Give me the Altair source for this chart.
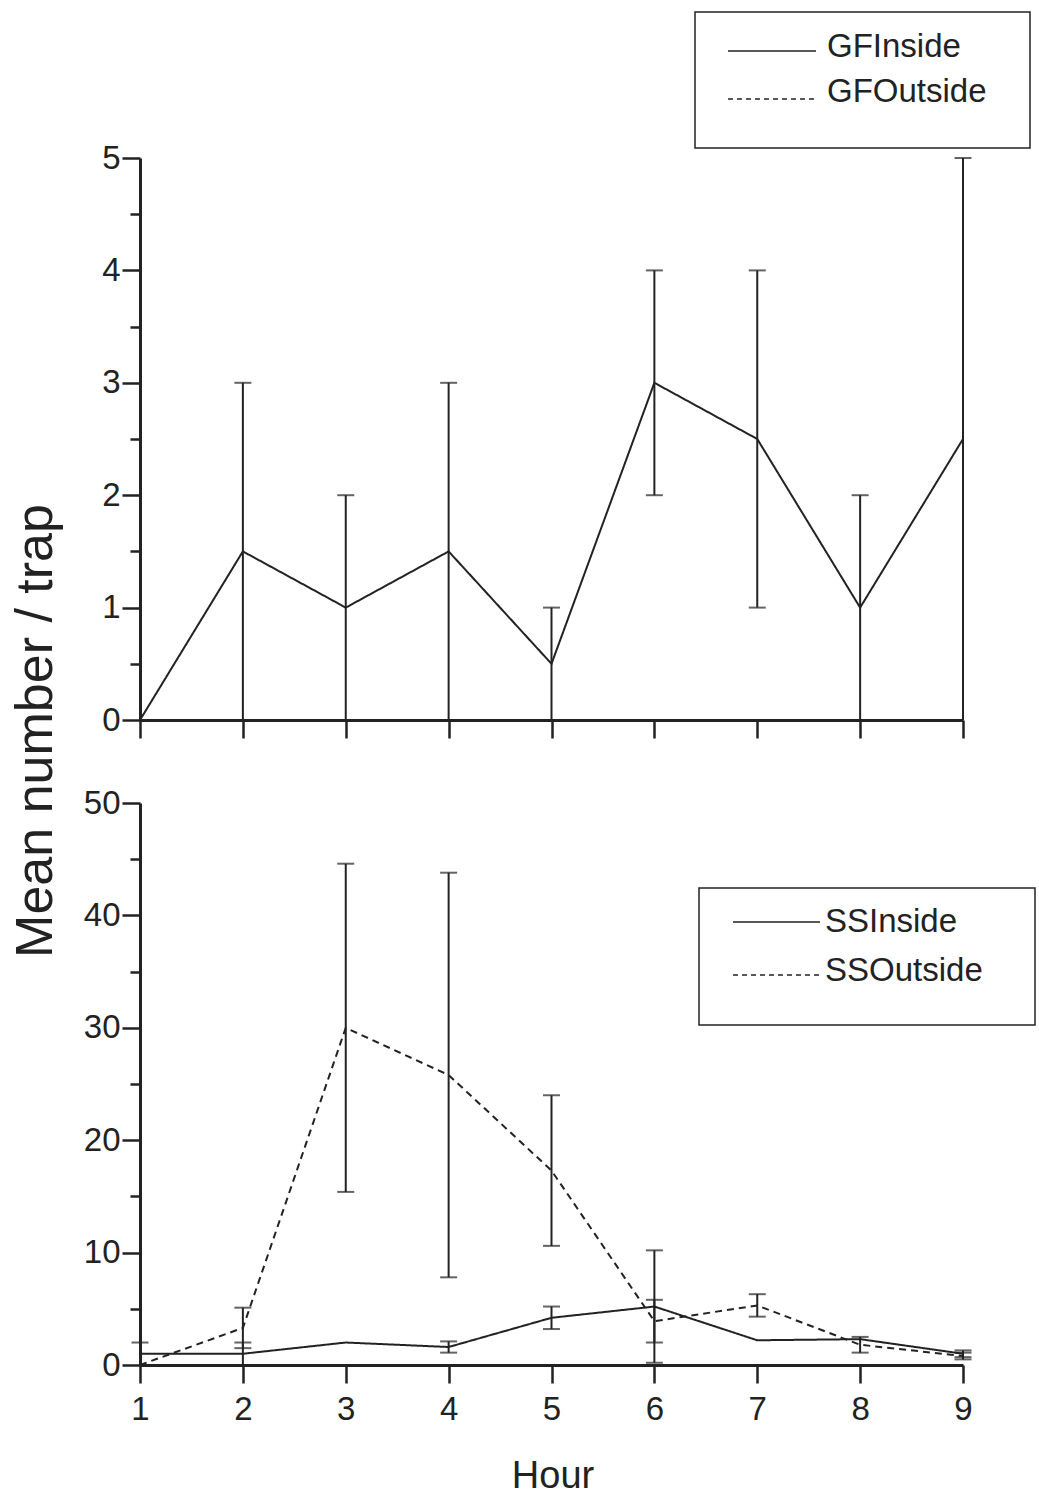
import altair as alt
import pandas as pd

# ---------------- data ----------------
hours = [1, 2, 3, 4, 5, 6, 7, 8, 9]

gf_inside = [0.0, 1.5, 1.0, 1.5, 0.5, 3.0, 2.5, 1.0, 2.5]
gf_inside_err = [0.0, 1.5, 1.0, 1.5, 0.5, 1.0, 1.5, 1.0, 2.5]
gf_outside = [0.0, 0.0, 0.0, 0.0, 0.0, 0.0, 0.0, 0.0, 0.0]
gf_outside_err = [0.0, 0.0, 0.0, 0.0, 0.0, 0.0, 0.0, 0.0, 0.0]

ss_inside = [1.0, 1.0, 2.0, 1.6, 4.2, 5.2, 2.2, 2.3, 1.0]
ss_inside_err = [1.0, 1.0, 0.0, 0.5, 1.0, 5.0, 0.0, 0.0, 0.3]
ss_outside = [0.0, 3.3, 30.0, 25.8, 17.3, 3.9, 5.3, 1.8, 0.8]
ss_outside_err = [0.0, 1.8, 14.6, 18.0, 6.7, 1.9, 1.0, 0.7, 0.3]

top_series = ["GFInside", "GFOutside"]
bottom_series = ["SSInside", "SSOutside"]

top_y_ticks = [0, 0.5, 1, 1.5, 2, 2.5, 3, 3.5, 4, 4.5, 5]
bottom_y_ticks = [0, 5, 10, 15, 20, 25, 30, 35, 40, 45, 50]

x_title = "Hour"
y_title = "Mean number / trap"

# ---------------- style ----------------
W, H = 823, 562
INK = "#222222"
FONT = "Liberation Sans"
SOLID = [1, 0]
DASH = [7, 5]


def build_df(names, means_list, errs_list):
    rows = []
    for name, means, errs in zip(names, means_list, errs_list):
        for h, m, e in zip(hours, means, errs):
            rows.append({"series": name, "hour": h, "mean": m, "err": e,
                         "lo": m - e, "hi": m + e})
    return pd.DataFrame(rows)


def caps_df(df):
    d = df[df["err"] > 0]
    lo = d[["series", "hour", "lo"]].rename(columns={"lo": "v"})
    hi = d[["series", "hour", "hi"]].rename(columns={"hi": "v"})
    caps = pd.concat([lo, hi], ignore_index=True)
    return caps[caps["v"] > 0]


def legend_layers(names, box, line_x, line_ys, text_x, text_ys):
    one = pd.DataFrame({"k": [0]})
    layers = [
        alt.Chart(one).mark_rect(fill="white", stroke=INK, strokeWidth=1.5).encode(
            x=alt.value(box[0]), x2=alt.value(box[1]),
            y=alt.value(box[2]), y2=alt.value(box[3]))
    ]
    for i, name in enumerate(names):
        dash = SOLID if i == 0 else [5, 4]
        layers.append(
            alt.Chart(one).mark_rule(color=INK, strokeWidth=1.6, strokeDash=dash).encode(
                x=alt.value(line_x[0]), x2=alt.value(line_x[1]), y=alt.value(line_ys[i]))
        )
        layers.append(
            alt.Chart(pd.DataFrame({"label": [name]})).mark_text(
                font=FONT, fontSize=33, color=INK, align="left", baseline="alphabetic"
            ).encode(x=alt.value(text_x), y=alt.value(text_ys[i]), text="label:N")
        )
    return layers


def panel(df, names, ymax, yticks, show_x_labels, minor_test, legend, extras):
    x_axis = alt.Axis(values=hours, labels=show_x_labels, title=None, tickSize=18,
                      labelPadding=10, labelFlush=False, grid=False)
    y_axis = alt.Axis(values=yticks, title=None, grid=False,
                      labelExpr=f"({minor_test}) ? '' : format(datum.value, 'd')",
                      tickSize={"condition": {"test": minor_test, "value": 10}, "value": 18},
                      labelPadding=2)
    xs = alt.Scale(domain=[1, 9], nice=False, zero=False)
    ys = alt.Scale(domain=[0, ymax], nice=False)
    dash_scale = alt.Scale(domain=names, range=[SOLID, DASH])

    lines = alt.Chart(df).mark_line(color=INK, strokeWidth=2).encode(
        x=alt.X("hour:Q", scale=xs, axis=x_axis),
        y=alt.Y("mean:Q", scale=ys, axis=y_axis),
        strokeDash=alt.StrokeDash("series:N", scale=dash_scale, legend=None),
        detail="series:N",
    )
    bars = alt.Chart(df[df["err"] > 0]).mark_rule(color=INK, strokeWidth=2).encode(
        x=alt.X("hour:Q", scale=xs, axis=x_axis),
        y=alt.Y("lo:Q", scale=ys, axis=y_axis),
        y2="hi:Q",
    )
    caps = alt.Chart(caps_df(df)).mark_tick(
        color=INK, orient="horizontal", size=17, thickness=2
    ).encode(
        x=alt.X("hour:Q", scale=xs, axis=x_axis),
        y=alt.Y("v:Q", scale=ys, axis=y_axis),
    )
    layers = [bars, caps, lines] + legend + extras
    return alt.layer(*layers).properties(width=W, height=H)


top_df = build_df(top_series, [gf_inside, gf_outside], [gf_inside_err, gf_outside_err])
bot_df = build_df(bottom_series, [ss_inside, ss_outside], [ss_inside_err, ss_outside_err])

one = pd.DataFrame({"k": [0]})
anchor = alt.Chart(one).mark_rect(opacity=0).encode(
    x=alt.value(-140), x2=alt.value(-139), y=alt.value(-158), y2=alt.value(-157))
ytitle = alt.Chart(pd.DataFrame({"t": [y_title]})).mark_text(
    font=FONT, fontSize=52, color=INK, angle=270, align="center", baseline="middle"
).encode(x=alt.value(-104), y=alt.value(573), text="t:N")
xtitle = alt.Chart(pd.DataFrame({"t": [x_title]})).mark_text(
    font=FONT, fontSize=38, color=INK, align="center", baseline="alphabetic"
).encode(x=alt.value(413), y=alt.value(685), text="t:N")

top = panel(
    top_df, top_series, 5, top_y_ticks, False, "datum.value % 1 !== 0",
    legend_layers(top_series, (555, 890, -146, -10), (588, 676), (-107, -59), 687, (-101, -56)),
    [anchor, ytitle],
)
bottom = panel(
    bot_df, bottom_series, 50, bottom_y_ticks, True, "datum.value % 10 !== 0",
    legend_layers(bottom_series, (559, 895, 85, 222), (593, 680), (119, 172), 685, (129, 178)),
    [xtitle],
)

chart = alt.vconcat(top, bottom, spacing=83, bounds="flush").properties(
    padding=0
).configure_view(stroke=None).configure_axis(
    domainColor=INK, domainWidth=3, tickColor=INK, tickWidth=2.5,
    labelFont=FONT, labelFontSize=33, labelColor=INK,
)

chart.save("out.html", embed_options={"renderer": "svg", "actions": False})
